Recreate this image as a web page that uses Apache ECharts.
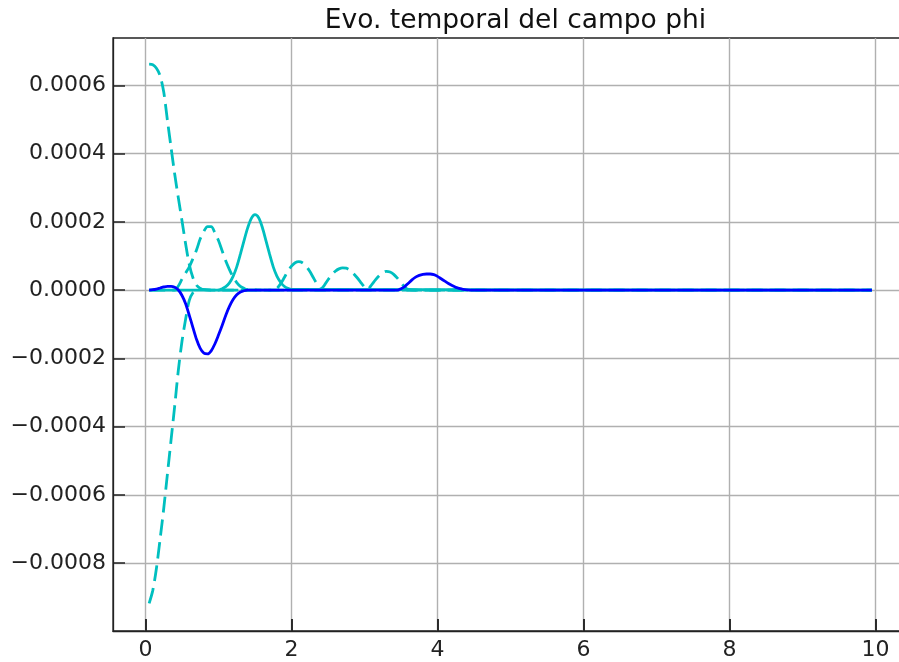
<!DOCTYPE html>
<html><head><meta charset="utf-8">
<script src="https://cdn.jsdelivr.net/npm/echarts@6/dist/echarts.min.js"></script>
<style>html,body{margin:0;padding:0;background:#fff}#c{width:899px;height:662px}</style>
</head><body><div id="c"></div><script>
const titleText = 'Evo. temporal del campo phi';
const xTicks = [0, 2, 4, 6, 8, 10];
const yTicks = [-0.0008, -0.0006, -0.0004, -0.0002, 0, 0.0002, 0.0004, 0.0006];

// dashed cyan: curve starting high
const d1X = [0.05, 0.1, 0.15, 0.2, 0.25, 0.3, 0.35, 0.4, 0.45, 0.5, 0.55, 0.6, 0.65, 0.7, 0.75, 0.8, 0.9, 9.95];
const d1Y = [6.62e-4, 6.60e-4, 6.50e-4, 6.28e-4, 5.80e-4, 4.98e-4, 4.18e-4, 3.40e-4, 2.70e-4, 2.03e-4, 1.35e-4, 7.5e-5, 3.6e-5, 1.4e-5, 5e-6, 1e-6, 0, 0];

// dashed cyan: curve starting low
const d2X = [0.05, 0.1, 0.15, 0.2, 0.25, 0.3, 0.35, 0.4, 0.45, 0.5, 0.55, 0.6, 0.65, 0.7, 0.75, 0.8, 0.9, 9.95];
const d2Y = [-9.18e-4, -8.80e-4, -8.15e-4, -7.30e-4, -6.40e-4, -5.40e-4, -4.40e-4, -3.40e-4, -2.35e-4, -1.50e-4, -8.5e-5, -3.0e-5, -8e-6, 0, 3e-6, 1e-6, 0, 0];

// dashed cyan: travelling bumps
const d3X = [0.05, 0.4, 0.45, 0.5, 0.55, 0.6, 0.65, 0.7, 0.75, 0.8, 0.85, 0.9, 0.95, 1.0, 1.05, 1.1, 1.15, 1.2, 1.25, 1.3, 1.35, 1.4,
  1.75, 1.8, 1.85, 1.9, 1.95, 2.0, 2.05, 2.1, 2.15, 2.2, 2.25, 2.3, 2.35, 2.4,
  2.45, 2.5, 2.55, 2.6, 2.65, 2.7, 2.75, 2.8, 2.85, 2.9, 2.95, 3.0, 3.04,
  3.1, 3.15, 3.2, 3.25, 3.3, 3.35, 3.4, 3.45, 3.5, 3.55, 3.6, 3.7, 9.95];
const d3Y = [0, 0, 1.2e-5, 3.2e-5, 5.0e-5, 6.8e-5, 9.2e-5, 1.18e-4, 1.50e-4, 1.72e-4, 1.86e-4, 1.86e-4, 1.68e-4, 1.45e-4, 1.15e-4, 8.5e-5, 6.0e-5, 3.8e-5, 2.2e-5, 1.1e-5, 5e-6, 1e-6,
  0, 5e-6, 1.8e-5, 3.6e-5, 5.5e-5, 7.0e-5, 8.0e-5, 8.3e-5, 8.0e-5, 7.0e-5, 5.5e-5, 3.6e-5, 1.8e-5, 3e-6,
  1.4e-5, 3.0e-5, 4.4e-5, 5.5e-5, 6.2e-5, 6.5e-5, 6.4e-5, 5.8e-5, 4.8e-5, 3.6e-5, 2.2e-5, 9e-6, 2e-6,
  1.6e-5, 3.0e-5, 4.2e-5, 5.1e-5, 5.5e-5, 5.3e-5, 4.6e-5, 3.5e-5, 2.2e-5, 9e-6, 2e-6, 0, 0];

// solid cyan
const c1X = [0.05, 1.0, 1.05, 1.1, 1.15, 1.2, 1.25, 1.3, 1.35, 1.4, 1.45, 1.5, 1.55, 1.6, 1.65, 1.7, 1.75, 1.8, 1.85, 1.9, 1.95, 2.0, 9.95];
const c1Y = [0, 0, 4e-6, 1.0e-5, 2.1e-5, 4.0e-5, 6.8e-5, 1.05e-4, 1.45e-4, 1.82e-4, 2.10e-4, 2.21e-4, 2.12e-4, 1.84e-4, 1.45e-4, 1.05e-4, 6.8e-5, 4.1e-5, 2.3e-5, 1.1e-5, 5e-6, 2e-6, 0];

// solid blue
const b1X = [0.05, 0.1, 0.15, 0.2, 0.25, 0.3, 0.35, 0.4, 0.45, 0.5, 0.55, 0.6, 0.65, 0.7, 0.75, 0.8, 0.85, 0.9, 0.95, 1.0, 1.05, 1.1, 1.15, 1.2, 1.25, 1.3, 1.35, 1.4,
  3.45, 3.5, 3.55, 3.6, 3.65, 3.7, 3.75, 3.8, 3.85, 3.9, 3.95, 4.0, 4.05, 4.1, 4.15, 4.2, 4.25, 4.3, 4.35, 4.45, 9.95];
const b1Y = [0, 1e-6, 3e-6, 6e-6, 9e-6, 1.1e-5, 1.1e-5, 8e-6, 0, -1.6e-5, -4.0e-5, -7.4e-5, -1.10e-4, -1.45e-4, -1.71e-4, -1.85e-4, -1.87e-4, -1.78e-4, -1.58e-4, -1.32e-4, -1.04e-4, -7.4e-5, -4.8e-5, -2.8e-5, -1.4e-5, -6e-6, -2e-6, 0,
  0, 4e-6, 1.0e-5, 2.0e-5, 3.0e-5, 3.8e-5, 4.3e-5, 4.6e-5, 4.7e-5, 4.7e-5, 4.5e-5, 4.0e-5, 3.3e-5, 2.6e-5, 1.9e-5, 1.3e-5, 8e-6, 5e-6, 2e-6, 0, 0];

const pairs = (xs, ys) => xs.map((x, i) => [x, ys[i]]);
const CYAN = '#00bfbf', BLUE = '#0000ff';
const FONT = 'DejaVu Sans';
const fmtY = v => (v < -1e-12 ? '\u2212' : '') + Math.abs(v).toFixed(4);
const X_MIN = -0.445, X_MAX = 10.445, Y_MIN = -0.000999, Y_MAX = 0.0007385;

const dashed = {type: [16, 7], width: 2.8, color: CYAN};
const spine = {show: true, onZero: false, lineStyle: {color: '#222', width: 1.3}};
const noLine = {show: false, onZero: false};
const tickStyle = {show: true, inside: true, length: 12, lineStyle: {color: '#222', width: 1.5}};
const gridOnly = {show: true, lineStyle: {color: '#b0b0b0', width: 1.4}};
const chart = echarts.init(document.getElementById('c'), null, {renderer: 'canvas'});
chart.setOption({
  animation: false,
  backgroundColor: '#fff',
  title: {
    text: titleText, left: 510.5, textAlign: 'center', top: 3,
    textStyle: {fontFamily: FONT, fontSize: 26.5, fontWeight: 'normal', color: '#111'}
  },
  grid: [
    {show: true, left: 113, top: 38, right: -9, bottom: 31, outerBoundsMode: 'none',
      borderColor: '#222', borderWidth: 1.3, backgroundColor: 'transparent'},
    // thin strip along the bottom spine that carries the inward x ticks
    {show: false, left: 113, top: 619, right: -9, bottom: 31, outerBoundsMode: 'none'}
  ],
  xAxis: [
    {type: 'value', gridIndex: 0, position: 'bottom', min: X_MIN, max: X_MAX, z: 0,
      axisLine: noLine, axisTick: {show: false, customValues: xTicks}, axisLabel: {show: false, customValues: xTicks},
      splitLine: gridOnly},
    {type: 'value', gridIndex: 0, position: 'bottom', offset: 0, min: X_MIN, max: X_MAX, z: 10,
      axisLine: spine,
      axisTick: Object.assign({customValues: xTicks}, tickStyle),
      axisLabel: {customValues: xTicks, margin: 8, fontSize: 22, fontFamily: FONT, color: '#222'},
      splitLine: {show: false}},
    {type: 'value', gridIndex: 1, position: 'bottom', min: X_MIN, max: X_MAX, z: 12,
      axisLine: noLine, axisTick: {show: false, customValues: xTicks}, axisLabel: {show: false, customValues: xTicks},
      splitLine: {show: true, lineStyle: {color: '#222', width: 1.5}}}
  ],
  yAxis: [
    {type: 'value', gridIndex: 0, position: 'left', min: Y_MIN, max: Y_MAX, z: 0,
      axisLine: noLine, axisTick: {show: false, customValues: yTicks}, axisLabel: {show: false, customValues: yTicks},
      splitLine: gridOnly},
    {type: 'value', gridIndex: 0, position: 'left', offset: 0, min: Y_MIN, max: Y_MAX, z: 10,
      axisLine: spine,
      axisTick: Object.assign({customValues: yTicks}, tickStyle),
      axisLabel: {customValues: yTicks, margin: 7, fontSize: 22, fontFamily: FONT, color: '#222', formatter: fmtY},
      splitLine: {show: false}},
    {type: 'value', gridIndex: 1, min: 0, max: 1, show: false}
  ],
  series: [
    {type: 'line', xAxisIndex: 0, yAxisIndex: 0, data: pairs(d1X, d1Y), showSymbol: false, smooth: 0.3, lineStyle: dashed},
    {type: 'line', xAxisIndex: 0, yAxisIndex: 0, data: pairs(d2X, d2Y), showSymbol: false, smooth: 0.3, lineStyle: dashed},
    {type: 'line', xAxisIndex: 0, yAxisIndex: 0, data: pairs(d3X, d3Y), showSymbol: false, smooth: 0.3, lineStyle: dashed},
    {type: 'line', xAxisIndex: 0, yAxisIndex: 0, data: pairs(c1X, c1Y), showSymbol: false, smooth: 0.3, lineStyle: {width: 2.8, color: CYAN}},
    {type: 'line', xAxisIndex: 0, yAxisIndex: 0, data: pairs(b1X, b1Y), showSymbol: false, smooth: 0.3, lineStyle: {width: 2.8, color: BLUE}}
  ]
});
</script></body></html>
